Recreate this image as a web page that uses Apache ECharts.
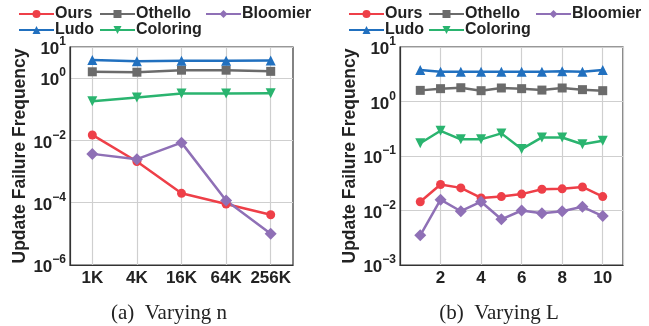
<!DOCTYPE html>
<html>
<head>
<meta charset="utf-8">
<script src="https://cdn.jsdelivr.net/npm/echarts@6/dist/echarts.min.js"></script>
<style>
  html, body { margin: 0; padding: 0; background: #fff; }
  #chart { width: 649px; height: 326px; }
</style>
</head>
<body>
<div id="chart"></div>
<script>
// (a) varying n
var nLabels = ['1K', '4K', '16K', '64K', '256K']
var oursN = [0.015, 0.0021, 2.0e-4, 9.1e-5, 4.1e-5]
var othelloN = [1.6, 1.55, 1.8, 1.8, 1.65]
var bloomierN = [0.0037, 0.0025, 0.0085, 1.17e-4, 1.0e-5]
var ludoN = [3.8, 3.5, 3.6, 3.6, 3.7]
var coloringN = [0.18, 0.24, 0.32, 0.32, 0.33]

// (b) varying L
var lValues = [1, 2, 3, 4, 5, 6, 7, 8, 9, 10]
var oursL = [0.0145, 0.030, 0.026, 0.017, 0.018, 0.020, 0.0245, 0.025, 0.027, 0.018]
var othelloL = [1.6, 1.72, 1.79, 1.58, 1.77, 1.72, 1.62, 1.77, 1.65, 1.58]
var bloomierL = [0.0035, 0.0158, 0.0097, 0.0145, 0.0069, 0.010, 0.0089, 0.0097, 0.0117, 0.0079]
var ludoL = [3.8, 3.5, 3.5, 3.5, 3.5, 3.5, 3.5, 3.6, 3.5, 3.8]
var coloringL = [0.171, 0.29, 0.202, 0.202, 0.26, 0.134, 0.219, 0.219, 0.164, 0.19]

var FONT = 'Liberation Sans'
var colors = {
  Ours: '#ee3f48',
  Othello: '#6b6b6b',
  Bloomier: '#8f70b6',
  Ludo: '#2170bf',
  Coloring: '#2ab46f'
}
var symbols = {
  Ours: ['circle', 9],
  Othello: ['rect', 9],
  Bloomier: ['diamond', 12],
  Ludo: ['triangle', 10],
  Coloring: ['path://M0,0 L10,0 L5,9 Z', 10]
}

function pow10Label(v) {
  var e = Math.round(Math.log10(v))
  return '{b|10}{s|' + (e < 0 ? '\u2212' : '') + Math.abs(e) + '}'
}

var yLabel = {
  formatter: pow10Label,
  margin: 4,
  rich: {
    b: { fontFamily: FONT, fontWeight: 'bold', fontSize: 17, color: '#222', lineHeight: 22, verticalAlign: 'bottom' },
    s: { fontFamily: FONT, fontWeight: 'bold', fontSize: 12, color: '#222', lineHeight: 12, verticalAlign: 'top' }
  }
}
var gridLine = { show: true, lineStyle: { color: '#cfcfcf', width: 1.2 } }
var axisLine = { show: true, lineStyle: { color: '#333', width: 1.2 } }
var xLabelStyle = { fontFamily: FONT, fontWeight: 'bold', fontSize: 17, color: '#222', margin: 5 }

function yAxisFor(gridIndex, min, base) {
  return {
    type: 'log',
    gridIndex: gridIndex,
    logBase: base,
    min: min,
    max: 10,
    name: 'Update Failure Frequency',
    nameLocation: 'middle',
    nameGap: 38,
    nameTextStyle: { fontFamily: FONT, fontWeight: 'bold', fontSize: 17.5, color: '#222' },
    axisLine: axisLine,
    axisTick: { show: false },
    axisLabel: yLabel,
    splitLine: gridLine
  }
}

function makeSeries(name, data, xi) {
  return {
    name: name,
    type: 'line',
    xAxisIndex: xi,
    yAxisIndex: xi,
    data: data,
    symbol: symbols[name][0],
    symbolSize: symbols[name][1],
    color: colors[name],
    lineStyle: { width: 2.5 },
    animation: false
  }
}

function pairs(ys) {
  return ys.map(function(v, i) { return [lValues[i], v] })
}

function legendCol(left, names) {
  return {
    left: left,
    top: 6,
    orient: 'vertical',
    itemWidth: 35,
    itemHeight: 10,
    itemGap: 0,
    padding: 0,
    data: names,
    textStyle: { fontFamily: FONT, fontWeight: 'bold', fontSize: 16, lineHeight: 16, color: '#222', padding: [0, 0, 0, -4] }
  }
}

var chart = echarts.init(document.getElementById('chart'))
chart.setOption({
  backgroundColor: '#fff',
  title: [
    { text: '(a)  Varying n', left: 164, top: 298, textAlign: 'center',
      textStyle: { fontFamily: 'Liberation Serif', fontWeight: 'normal', fontSize: 21, color: '#222' } },
    { text: '(b)  Varying L', left: 494, top: 298, textAlign: 'center',
      textStyle: { fontFamily: 'Liberation Serif', fontWeight: 'normal', fontSize: 21, color: '#222' } }
  ],
  legend: [
    legendCol(18, ['Ours', 'Ludo']),
    legendCol(99, ['Othello', 'Coloring']),
    legendCol(205, ['Bloomier']),
    legendCol(348, ['Ours', 'Ludo']),
    legendCol(428, ['Othello', 'Coloring']),
    legendCol(535, ['Bloomier'])
  ],
  grid: [
    { left: 70, top: 47, width: 223, height: 218, show: true, borderColor: '#333', borderWidth: 1.2 },
    { left: 400, top: 47, width: 223, height: 218, show: true, borderColor: '#333', borderWidth: 1.2 }
  ],
  xAxis: [
    {
      type: 'category',
      gridIndex: 0,
      data: nLabels,
      boundaryGap: true,
      axisLine: axisLine,
      axisTick: { show: false, alignWithLabel: true },
      axisLabel: Object.assign({}, xLabelStyle, { interval: 0 }),
      splitLine: { show: true, interval: 0, alignWithLabel: true, lineStyle: { color: '#cfcfcf', width: 1.2 } }
    },
    {
      type: 'value',
      gridIndex: 1,
      min: 0,
      max: 11,
      interval: 2,
      axisLine: axisLine,
      axisTick: { show: false },
      axisLabel: Object.assign({}, xLabelStyle, {
        formatter: function(v) { return v > 0 && v <= 10 ? String(v) : '' }
      }),
      splitLine: gridLine
    }
  ],
  yAxis: [
    yAxisFor(0, 1e-6, 100),
    yAxisFor(1, 1e-3, 10)
  ],
  series: [
    makeSeries('Ours', oursN, 0),
    makeSeries('Othello', othelloN, 0),
    makeSeries('Bloomier', bloomierN, 0),
    makeSeries('Ludo', ludoN, 0),
    makeSeries('Coloring', coloringN, 0),
    makeSeries('Ours', pairs(oursL), 1),
    makeSeries('Othello', pairs(othelloL), 1),
    makeSeries('Bloomier', pairs(bloomierL), 1),
    makeSeries('Ludo', pairs(ludoL), 1),
    makeSeries('Coloring', pairs(coloringL), 1)
  ]
})
</script>
</body>
</html>
